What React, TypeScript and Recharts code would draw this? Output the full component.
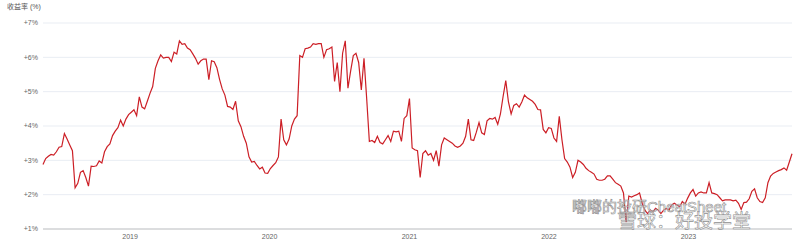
import { LineChart, Line, XAxis, YAxis, CartesianGrid } from "recharts";

// weekly yield (%) readings, first week starting START_DATE
const START_DATE = "2018-05-18";
const yieldPct = [
  2.88, 3.05, 3.12, 3.17, 3.15, 3.25, 3.38, 3.4, 3.78, 3.62,
  3.45, 3.28, 2.2, 2.33, 2.65, 2.7, 2.5, 2.25, 2.83, 2.82,
  2.84, 2.98, 2.92, 3.25, 3.4, 3.48, 3.72, 3.85, 3.95, 4.17,
  4.0, 4.2, 4.33, 4.4, 4.47, 4.3, 4.85, 4.55, 4.5, 4.72,
  4.95, 5.15, 5.68, 5.9, 6.07, 5.98, 6.0, 6.0, 5.88, 6.15,
  6.1, 6.48, 6.38, 6.4, 6.27, 6.22, 6.1, 5.97, 5.8, 5.9,
  5.95, 5.95, 5.35, 5.9, 5.87, 5.7, 5.36, 5.08, 4.9, 4.57,
  4.55, 4.48, 4.72, 4.15, 3.98, 3.7, 3.5, 3.1, 2.95, 2.97,
  2.85, 2.75, 2.8, 2.63, 2.62, 2.76, 2.85, 2.93, 3.1, 4.2,
  3.6, 3.45, 3.62, 4.0, 4.2, 4.3, 6.05, 6.0, 6.25, 6.27,
  6.3, 6.4, 6.38, 6.4, 6.4, 6.0, 6.22, 6.25, 6.3, 5.3,
  5.85, 5.0, 6.12, 6.48, 5.1, 5.6, 6.05, 6.12, 5.85, 5.05,
  5.97, 4.8, 3.55, 3.58, 3.52, 3.7, 3.52, 3.48, 3.6, 3.72,
  3.55, 3.85, 3.83, 3.85, 3.55, 4.22, 4.3, 4.8, 3.36, 3.31,
  3.28, 2.5, 3.2, 3.28, 3.15, 3.2, 3.0, 3.28, 2.83, 3.45,
  3.65, 3.6, 3.55, 3.5, 3.42, 3.38, 3.42, 3.5, 3.7, 4.2,
  3.6, 3.58, 3.82, 4.1, 3.8, 3.75, 4.15, 4.22, 4.2, 4.25,
  4.05, 4.35, 4.86, 5.32, 4.7, 4.35, 4.6, 4.65, 4.55, 4.7,
  4.9, 4.82, 4.77, 4.72, 4.63, 4.48, 4.47, 3.9, 3.8, 3.95,
  3.93, 3.65, 3.55, 4.28, 3.6, 3.05, 2.95, 2.8, 2.5, 2.65,
  3.0, 2.95, 2.88, 2.77, 2.7, 2.65, 2.6, 2.45, 2.42, 2.42,
  2.45, 2.55, 2.55, 2.45, 2.35, 2.3, 2.25, 2.05, 1.2, 1.96,
  1.93, 1.97, 2.0, 2.05, 1.75, 1.55, 1.45, 1.55, 1.5, 1.6,
  1.55, 1.45, 1.55, 1.6, 1.55, 1.7, 1.75, 1.7, 1.65, 1.8,
  1.72, 1.9, 2.05, 2.15, 1.96, 2.05, 2.08, 2.05, 2.05, 2.35,
  2.05, 2.03, 2.0, 1.91, 1.82, 1.85, 1.85, 1.85, 1.82, 1.84,
  1.75, 1.57, 1.77, 1.78, 1.88, 2.1, 2.17, 1.91, 1.8, 1.77,
  1.91, 2.35, 2.54, 2.62, 2.66, 2.7, 2.73, 2.78, 2.71, 2.95,
  3.19,
];
const yearTicks = ["2019-01-01", "2020-01-01", "2021-01-01", "2022-01-01", "2023-01-01"];
const pctTicks = [1, 2, 3, 4, 5, 6, 7];

const WEEK = 7 * 86400000;
const startMs = Date.parse(START_DATE);
const data = yieldPct.map((v, i) => ({ t: startMs + i * WEEK, v }));

const font = "'Liberation Sans', 'Noto Sans CJK SC', sans-serif";

const watermark = {
  position: "absolute" as const,
  fontFamily: font,
  color: "rgba(255,255,255,0.55)",
  WebkitTextStroke: "0.6px #8f8f8f",
  whiteSpace: "nowrap" as const,
  lineHeight: 1,
};

export default function App() {
  return (
    <div style={{ position: "absolute", left: 0, top: 0, width: 800, height: 245, background: "#fff" }}>
      <div style={{ position: "absolute", left: 7, top: 1, fontSize: 7, color: "#555", fontFamily: font }}>
        收益率 (%)
      </div>
      <LineChart width={800} height={245} data={data} margin={{ top: 23, right: 8, bottom: 0, left: 0 }}>
        <CartesianGrid vertical={false} stroke="#e9edf3" />
        <XAxis
          dataKey="t"
          type="number"
          domain={[data[0].t, data[data.length - 1].t]}
          ticks={yearTicks.map((d) => Date.parse(d))}
          tickFormatter={(t: number) => String(new Date(t).getUTCFullYear())}
          height={16}
          tickSize={0}
          tickMargin={5}
          axisLine={{ stroke: "#c4c4c4" }}
          tick={{ fill: "#666", fontSize: 7, fontFamily: font }}
        />
        <YAxis
          domain={[1, 7]}
          ticks={pctTicks}
          tickFormatter={(v: number) => `+${v}%`}
          width={43}
          axisLine={false}
          tickLine={false}
          tickSize={0}
          tickMargin={5}
          tick={{ fill: "#666", fontSize: 7, fontFamily: font }}
        />
        <Line
          dataKey="v"
          stroke="#cc1f26"
          strokeWidth={1.2}
          dot={false}
          type="linear"
          isAnimationActive={false}
        />
      </LineChart>
      <div style={{ ...watermark, left: 572, top: 199, fontSize: 15 }}>嘟嘟的投研CheatSheet</div>
      <div style={{ ...watermark, left: 618, top: 212, fontSize: 19 }}>雪球：好投学堂</div>
    </div>
  );
}
